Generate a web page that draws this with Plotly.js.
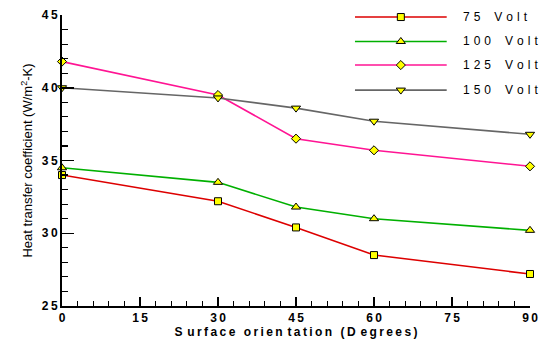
<!DOCTYPE html>
<html>
<head>
<meta charset="utf-8">
<script src="https://cdn.plot.ly/plotly-3.0.1.min.js"></script>
<style>body{margin:0;padding:0;background:#fff}#chart{width:542px;height:339px}</style>
</head>
<body>
<div id="chart"></div>
<script>
const angles = [0, 30, 45, 60, 90];
const seriesNames = ['75 Volt', '100 Volt', '125 Volt', '150 Volt'];
const v75  = [34.0, 32.2, 30.4, 28.5, 27.2];
const v100 = [34.5, 33.5, 31.8, 31.0, 30.2];
const v125 = [41.8, 39.5, 36.5, 35.7, 34.6];
const v150 = [40.0, 39.3, 38.6, 37.7, 36.8];
const xTicks = [0, 15, 30, 45, 60, 75, 90];
const yTicks = [25, 30, 35, 40, 45];

const values = [v75, v100, v125, v150];
const colors = ['#dd0000', '#00b000', '#ff1493', '#666666'];
const symbols = ['square', 'triangle-up', 'diamond', 'triangle-down'];
const sizes = [7, 8, 7, 8];

const spaced = s => s.split('').join('\u2009');
const traces = [];
values.forEach((v, i) => {
  traces.push({
    x: angles, y: v, type: 'scatter', mode: 'lines+markers',
    line: {color: colors[i], width: 1.6},
    marker: {symbol: symbols[i], size: sizes[i], color: '#ffff00', line: {color: '#000', width: 1}},
    cliponaxis: false, showlegend: false, hoverinfo: 'skip'
  });
});
// hand-made legend on an overlay axis pair (0..1)
const legY = [0.993, 0.909, 0.828, 0.742];
const annotations = [];
seriesNames.forEach((n, i) => {
  traces.push({
    x: [0.626, 0.822], y: [legY[i], legY[i]], xaxis: 'x2', yaxis: 'y2',
    type: 'scatter', mode: 'lines', line: {color: colors[i], width: 1.6},
    showlegend: false, hoverinfo: 'skip', cliponaxis: false
  });
  traces.push({
    x: [0.724], y: [legY[i]], xaxis: 'x2', yaxis: 'y2',
    type: 'scatter', mode: 'markers',
    marker: {symbol: symbols[i], size: sizes[i], color: '#ffff00', line: {color: '#000', width: 1}},
    showlegend: false, hoverinfo: 'skip', cliponaxis: false
  });
  annotations.push({
    xref: 'x2', yref: 'y2', x: 0.852, y: legY[i], xanchor: 'left', yanchor: 'middle',
    text: n.split('').map(c => c === ' ' ? '\u2002' : c).join('\u2004'), showarrow: false,
    font: {family: 'Liberation Sans, Arial, sans-serif', size: 12, color: '#000'}
  });
});

const axisFont = {family: 'Liberation Sans, Arial, sans-serif', size: 12, color: '#000', weight: 'bold'};
const layout = {
  width: 542, height: 339,
  margin: {l: 62, r: 12, t: 15, b: 33},
  paper_bgcolor: '#fff', plot_bgcolor: '#fff',
  showlegend: false,
  xaxis: {
    range: [0, 90], showgrid: false, zeroline: false,
    showline: true, linecolor: '#000', linewidth: 2,
    tickvals: xTicks, ticktext: xTicks.map(t => spaced(String(t))),
    ticks: 'inside', ticklen: 9, tickwidth: 1.5, tickcolor: '#000',
    minor: {dtick: 3, ticks: 'inside', ticklen: 5, tickwidth: 1.2, tickcolor: '#000'},
    tickfont: axisFont,
    title: {text: 'S\u2009\u2009u\u2009r\u2009f\u2009a\u2009c\u2009e\u2002\u2009o\u2009r\u2009i\u2009e\u2009n\u2009\u2009t\u2009a\u2009t\u2009i\u2009o\u2009n\u2002\u2009(\u2009D\u2009\u2009e\u2009g\u2009r\u2009e\u2009e\u2009s\u2009)', font: {family: 'Liberation Sans, Arial, sans-serif', size: 12, color: '#000', weight: 'bold'}, standoff: 2}
  },
  yaxis: {
    range: [25, 45], showgrid: false, zeroline: false,
    showline: true, linecolor: '#000', linewidth: 2,
    tickvals: yTicks, ticktext: yTicks.map(t => spaced(String(t))),
    ticks: 'inside', ticklen: 12, tickwidth: 1.5, tickcolor: '#000',
    minor: {dtick: 1, ticks: 'inside', ticklen: 6, tickwidth: 1.2, tickcolor: '#000'},
    tickfont: axisFont,
    title: {text: 'Heat transfer coefficient (W/m<sup>2</sup>-K)', font: {family: 'Liberation Sans, Arial, sans-serif', size: 13, color: '#000'}, standoff: 6}
  },
  xaxis2: {overlaying: 'x', range: [0, 1], visible: false},
  yaxis2: {overlaying: 'y', range: [0, 1], visible: false},
  annotations: annotations
};
Plotly.newPlot('chart', traces, layout, {staticPlot: true, displayModeBar: false});
</script>
</body>
</html>
